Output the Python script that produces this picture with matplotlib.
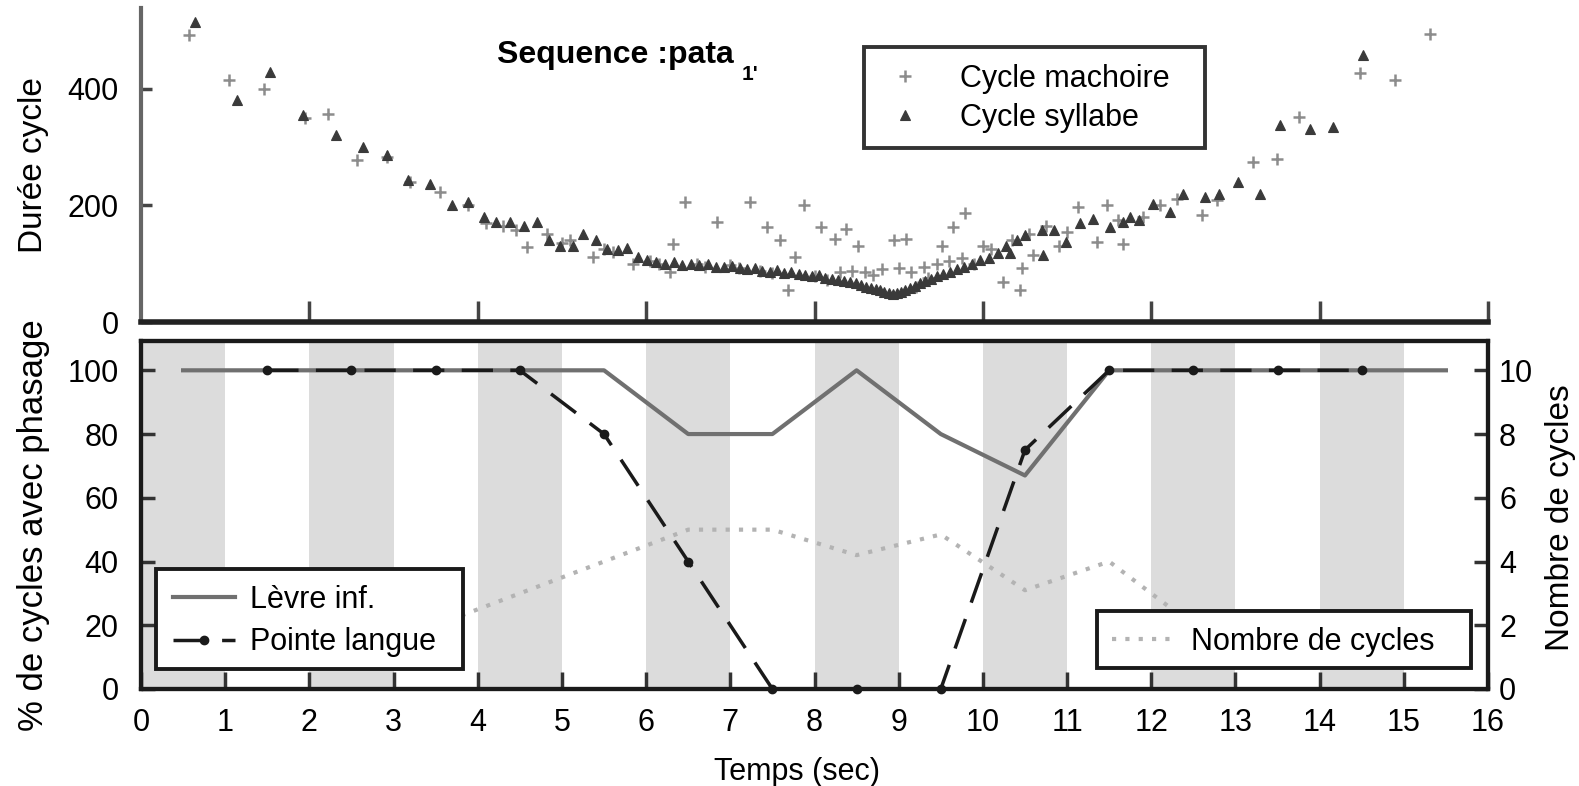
import matplotlib
matplotlib.use("Agg")
import matplotlib.pyplot as plt
from matplotlib.patches import Rectangle

plt.rcParams['font.family'] = ['Liberation Sans', 'DejaVu Sans']

# ---------------- data ----------------
# top panel : cycle durations (ms) vs time (s)
t_syl = [0.64, 1.14, 1.53, 1.92, 2.32, 2.64, 2.92, 3.17, 3.43, 3.69,
         3.89, 4.07, 4.22, 4.38, 4.55, 4.70, 4.85, 4.98, 5.13, 5.25,
         5.41, 5.53, 5.66, 5.77, 5.90, 6.01, 6.12, 6.22, 6.33, 6.43,
         6.53, 6.63, 6.73, 6.83, 6.92, 7.02, 7.11, 7.20, 7.29, 7.38,
         7.47, 7.55, 7.64, 7.72, 7.81, 7.89, 7.97, 8.05, 8.13, 8.21,
         8.28, 8.35, 8.42, 8.49, 8.55, 8.61, 8.67, 8.73, 8.78, 8.83,
         8.88, 8.93, 8.98, 9.03, 9.08, 9.13, 9.19, 9.25, 9.31, 9.38,
         9.45, 9.53, 9.61, 9.69, 9.78, 9.87, 9.97, 10.07, 10.18, 10.28,
         10.32, 10.41, 10.50, 10.70, 10.72, 10.85, 10.99, 11.15, 11.31, 11.51,
         11.66, 11.75, 11.86, 12.02, 12.22, 12.38, 12.64, 12.81, 13.03, 13.29,
         13.53, 13.88, 14.16, 14.51]
d_syl = [514, 380, 428, 355, 320, 300, 286, 243, 237, 200,
         206, 180, 171, 171, 165, 171, 140, 130, 131, 151,
         140, 125, 123, 126, 111, 106, 103, 100, 102, 98,
         100, 97, 99, 95, 94, 96, 92, 90, 93, 88,
         86, 89, 84, 86, 82, 80, 78, 80, 76, 74,
         72, 70, 68, 66, 64, 60, 58, 56, 54, 52,
         50, 48, 50, 52, 55, 58, 62, 66, 70, 74,
         78, 82, 86, 90, 95, 100, 106, 110, 118, 131,
         118, 140, 149, 157, 114, 157, 137, 169, 177, 163,
         172, 180, 174, 203, 189, 220, 214, 220, 240, 220,
         337, 331, 334, 457]

t_mac = [0.57, 1.05, 1.46, 1.95, 2.22, 2.56, 2.92, 3.20, 3.55, 3.88,
         4.10, 4.30, 4.46, 4.58, 4.82, 5.00, 5.10, 5.37, 5.50, 5.61,
         5.85, 6.05, 6.15, 6.28, 6.32, 6.46, 6.60, 6.70, 6.84, 7.00,
         7.10, 7.23, 7.35, 7.43, 7.50, 7.59, 7.69, 7.77, 7.87, 8.00,
         8.08, 8.15, 8.24, 8.30, 8.38, 8.45, 8.52, 8.60, 8.70, 8.80,
         8.94, 9.00, 9.09, 9.15, 9.20, 9.30, 9.35, 9.45, 9.51, 9.60,
         9.65, 9.75, 9.79, 9.90, 10.00, 10.10, 10.24, 10.35, 10.44, 10.46,
         10.55, 10.60, 10.75, 10.90, 11.00, 11.13, 11.35, 11.47, 11.60, 11.67,
         11.90, 12.10, 12.30, 12.60, 12.78, 13.21, 13.49, 13.76, 14.48, 14.90,
         15.31]
d_mac = [491, 415, 400, 350, 357, 277, 283, 240, 223, 200,
         169, 165, 157, 129, 150, 135, 140, 111, 125, 120,
         100, 105, 100, 86, 134, 206, 100, 95, 171, 98,
         92, 206, 88, 163, 84, 140, 54, 111, 200, 78,
         163, 72, 143, 85, 160, 88, 131, 85, 80, 90,
         140, 92, 143, 85, 60, 95, 75, 100, 131, 105,
         163, 110, 186, 100, 131, 125, 69, 140, 54, 92,
         150, 114, 165, 130, 155, 197, 137, 200, 175, 134,
         180, 200, 210, 183, 209, 274, 280, 351, 427, 414,
         494]

# bottom panel
t_levre = [0.5, 1.5, 2.5, 3.5, 4.5, 5.5, 6.5, 7.5, 8.5, 9.5, 10.5, 11.5, 12.5, 13.5, 14.5, 15.5]
p_levre = [100, 100, 100, 100, 100, 100, 80, 80, 100, 80, 67, 100, 100, 100, 100, 100]

t_langue = [1.5, 2.5, 3.5, 4.5, 5.5, 6.5, 7.5, 8.5, 9.5, 10.5, 11.5, 12.5, 13.5, 14.5]
p_langue = [100, 100, 100, 100, 80, 40, 0, 0, 0, 75, 100, 100, 100, 100]

t_nb = [0.5, 1.5, 2.5, 3.5, 4.5, 5.5, 6.5, 7.5, 8.5, 9.5, 10.5, 11.5, 12.5, 13.5, 14.5, 15.5]
n_cycles = [2.0, 2.0, 2.0, 2.0, 3.0, 4.0, 5.0, 5.0, 4.2, 4.85, 3.1, 4.0, 2.0, 1.5, 1.5, 1.0]

bands = [0, 2, 4, 6, 8, 10, 12, 14]

# ---------------- figure ----------------
W, H = 1579, 786
fig = plt.figure(figsize=(W / 100, H / 100), dpi=100)

def fx(px):
    return px / W

def fy(py):
    return 1 - py / H

FS = 22
EDGE = '#1a1a1a'

def box(ax, x0, y0, x1, y1, ec=EDGE):
    r = Rectangle((fx(x0), fy(y1)), (x1 - x0) / W, (y1 - y0) / H,
                  transform=fig.transFigure, facecolor='white', edgecolor=ec,
                  linewidth=2.8, zorder=4.5, clip_on=False)
    ax.add_artist(r)

# top axes
ax1 = fig.add_axes([fx(141), fy(322), (1488 - 141) / W, (322 - 8) / H])
ax1.plot(t_mac, d_mac, linestyle='none', marker='+', ms=9, mew=1.8,
         color='#8c8c8c', label='Cycle machoire', zorder=2)
ax1.plot(t_syl, d_syl, linestyle='none', marker='^', ms=6.5, mew=0.8,
         color='#3a3a3a', mec='#3a3a3a', label='Cycle syllabe', zorder=2.1)
ax1.set_xlim(0, 16)
ax1.set_ylim(0, 538)
ax1.spines['top'].set_visible(False)
ax1.spines['right'].set_visible(False)
ax1.spines['left'].set_color('#666666')
ax1.spines['left'].set_linewidth(3)
ax1.spines['bottom'].set_color('#222222')
ax1.spines['bottom'].set_linewidth(4)
ax1.set_xticks([2, 4, 6, 8, 10, 12, 14, 16])
ax1.set_yticks([0, 200, 400])
ax1.tick_params(axis='x', direction='in', length=15, width=2.5, color='#444444',
                labelbottom=False)
ax1.tick_params(axis='y', direction='in', length=8, width=2.5, color='#444444',
                labelsize=FS, pad=16)
box(ax1, 864, 47, 1205, 148, ec='#333333')
leg1 = ax1.legend(loc='upper left', bbox_to_anchor=(fx(877), fy(64)),
                  bbox_transform=fig.transFigure, borderaxespad=0, borderpad=0,
                  fontsize=FS, frameon=False, handlelength=1.8, handletextpad=0.9,
                  labelspacing=0.3, numpoints=1)
leg1.set_zorder(6)

fig.text(fx(497), fy(63), 'Sequence :pata', fontsize=23, fontweight='bold',
         ha='left', va='baseline')
fig.text(fx(742), fy(80), "1'", fontsize=15, fontweight='bold',
         ha='left', va='baseline')

# bottom axes
ax2 = fig.add_axes([fx(141), fy(689), (1488 - 141) / W, (689 - 341) / H])
for b in bands:
    ax2.axvspan(b, b + 1, color='#dcdcdc', lw=0, zorder=0)
l1, = ax2.plot(t_levre, p_levre, color='#707070', lw=3, label='Lèvre inf.', zorder=3)
l2, = ax2.plot(t_langue, p_langue, color='#1a1a1a', lw=2.5, linestyle=(0, (9, 5)),
               marker='o', ms=6, label='Pointe langue', zorder=4, clip_on=False)
ax2.set_xlim(0, 16)
ax2.set_ylim(0, 109.2)
ax2.set_xticks(range(0, 17))
ax2.set_yticks([0, 20, 40, 60, 80, 100])
ax2.tick_params(axis='x', direction='in', length=12, width=2.5, color='#333333',
                labelsize=FS, pad=14)
ax2.tick_params(axis='y', direction='in', length=10, width=2.5, color='#333333',
                labelsize=FS, pad=16)
for s in ax2.spines.values():
    s.set_linewidth(3)
    s.set_color(EDGE)

ax3 = ax2.twinx()
l3, = ax3.plot(t_nb, n_cycles, color='#b3b3b3', lw=3, linestyle=(0, (1, 2.2)),
               label='Nombre de cycles', zorder=2)
ax3.set_ylim(0, 10.92)
ax3.set_yticks([0, 2, 4, 6, 8, 10])
ax3.tick_params(axis='y', direction='in', length=10, width=2.5, color='#333333',
                labelsize=FS, pad=8)
for s in ax3.spines.values():
    s.set_linewidth(3)
    s.set_color(EDGE)

box(ax3, 156, 569, 463, 669)
legA = ax3.legend(handles=[l1, l2], loc='upper left', bbox_to_anchor=(fx(173), fy(585)),
                  bbox_transform=fig.transFigure, borderaxespad=0, borderpad=0,
                  fontsize=FS, frameon=False, handlelength=2.03, handletextpad=0.5,
                  labelspacing=0.4)
legA.set_zorder(6)
ax3.add_artist(legA)
box(ax3, 1097, 611, 1471, 668)
legB = ax3.legend(handles=[l3], loc='upper left', bbox_to_anchor=(fx(1112), fy(627)),
                  bbox_transform=fig.transFigure, borderaxespad=0, borderpad=0,
                  fontsize=FS, frameon=False, handlelength=2.16, handletextpad=0.43)
legB.set_zorder(6)

# axis labels
fig.text(fx(34), fy(165), 'Durée cycle', rotation=90, fontsize=24,
         ha='center', va='center')
fig.text(fx(34), fy(525), '% de cycles avec phasage', rotation=90, fontsize=25,
         ha='center', va='center')
fig.text(fx(1560), fy(518), 'Nombre de cycles', rotation=90, fontsize=24,
         ha='center', va='center')
fig.text(fx(797), fy(772), 'Temps (sec)', fontsize=FS, ha='center', va='center')

fig.savefig('out.png', dpi=100)
